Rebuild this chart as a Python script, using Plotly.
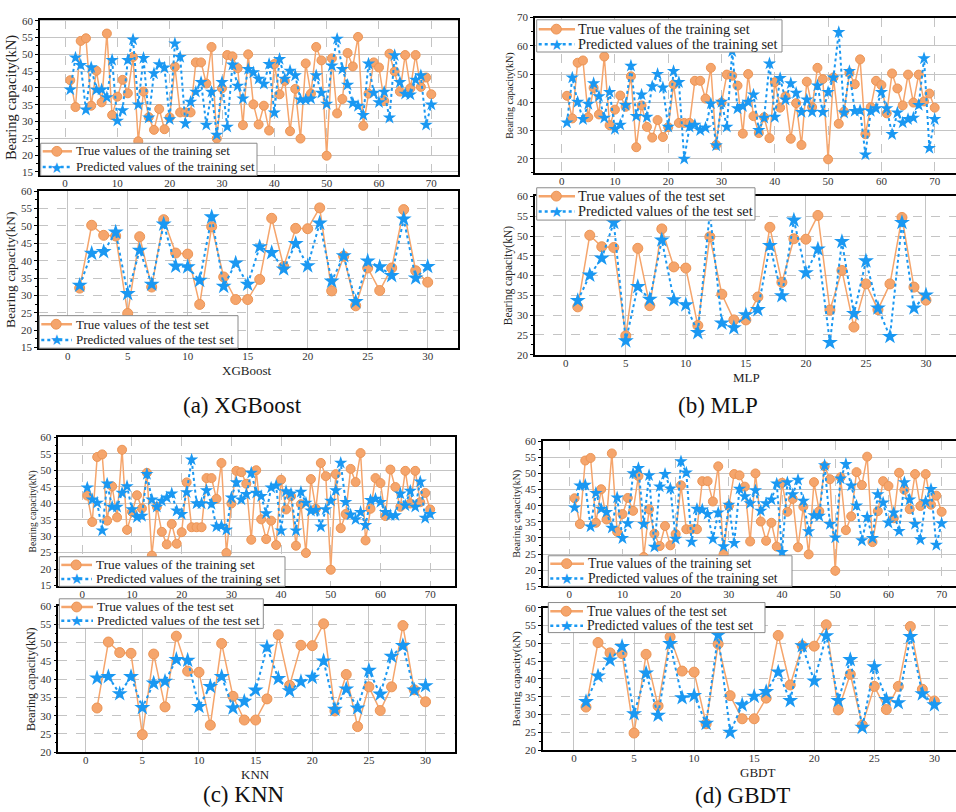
import plotly.graph_objects as go

W, H = 956, 812

train_x = list(range(1, 71))
test_x = list(range(1, 31))

train_true = [42.3, 34.3, 54.0, 54.8, 34.7, 45.1, 35.7, 56.2, 31.9, 37.4,
              42.4, 38.4, 49.2, 24.1, 38.9, 31.3, 27.5, 33.7, 27.7, 31.2,
              46.3, 32.7, 32.7, 32.7, 47.6, 47.6, 41.3, 52.2, 24.9, 39.9,
              49.8, 49.4, 45.9, 28.9, 50.0, 35.1, 29.1, 34.7, 27.3, 47.1,
              38.1, 42.1, 27.1, 39.7, 24.9, 47.3, 38.3, 52.2, 48.2, 19.8,
              48.8, 32.4, 36.7, 50.4, 46.4, 55.2, 28.7, 38.3, 47.6, 46.1,
              36.1, 50.2, 44.9, 38.9, 49.8, 39.9, 49.8, 40.3, 43.1, 38.1]

xgb_train_pred = [39.5, 49.0, 46.8, 33.5, 46.1, 39.4, 39.5, 37.2, 48.3, 30.2,
                  33.3, 48.3, 54.4, 35.0, 48.9, 31.1, 44.3, 47.0, 46.0, 30.6,
                  53.2, 49.2, 29.4, 35.8, 38.8, 41.7, 29.0, 38.8, 26.0, 41.7,
                  28.4, 46.9, 40.6, 36.8, 45.6, 44.6, 42.7, 41.2, 47.1, 32.6,
                  48.6, 42.7, 45.1, 43.7, 36.5, 36.5, 36.8, 43.7, 38.5, 35.2,
                  46.6, 54.6, 45.6, 40.9, 35.5, 34.6, 31.9, 47.2, 38.5, 35.7,
                  38.8, 31.1, 49.7, 41.7, 38.2, 38.0, 42.4, 43.7, 29.0, 35.0]

mlp_train_pred = [32.8, 48.7, 40.1, 34.0, 39.4, 46.7, 42.1, 34.5, 43.6, 30.5,
                  32.0, 39.0, 52.9, 35.1, 42.7, 34.8, 45.6, 50.0, 45.2, 31.3,
                  51.0, 47.1, 20.0, 31.3, 32.0, 30.1, 31.0, 39.5, 24.7, 40.1,
                  31.3, 58.0, 37.8, 38.6, 40.1, 42.7, 30.1, 34.5, 53.7, 34.8,
                  48.5, 40.9, 46.7, 43.3, 36.5, 40.9, 36.6, 45.9, 36.5, 43.6,
                  48.7, 64.8, 36.3, 51.0, 36.9, 37.1, 21.5, 36.9, 37.8, 43.6,
                  37.8, 28.7, 36.3, 32.8, 34.0, 34.5, 39.0, 55.5, 23.8, 34.0]

knn_train_pred = [44.7, 41.1, 40.1, 31.7, 45.9, 38.9, 38.9, 43.1, 45.1, 38.1,
                  35.7, 36.1, 48.8, 41.1, 38.9, 40.7, 41.7, 42.9, 37.7, 36.7,
                  43.3, 53.2, 39.9, 39.9, 43.9, 39.7, 32.9, 33.1, 31.9, 41.7,
                  46.3, 41.1, 42.7, 49.2, 43.1, 42.1, 36.9, 44.7, 45.3, 31.7,
                  43.6, 42.9, 31.7, 43.4, 40.1, 37.7, 37.9, 32.9, 38.1, 40.7,
                  43.9, 52.2, 40.3, 36.5, 35.1, 37.3, 33.3, 40.9, 41.3, 40.3,
                  37.3, 36.3, 36.3, 42.9, 39.3, 43.7, 38.9, 46.5, 35.5, 36.7]

gbdt_train_pred = [39.4, 46.2, 46.4, 33.5, 43.9, 39.0, 38.0, 33.1, 42.5, 29.9,
                   34.5, 50.0, 51.6, 34.3, 49.4, 27.2, 45.9, 49.8, 45.3, 29.7,
                   53.7, 50.2, 28.8, 39.0, 38.8, 37.4, 29.7, 37.8, 27.4, 40.2,
                   28.4, 45.2, 42.9, 40.7, 44.7, 38.4, 40.7, 41.9, 46.8, 25.6,
                   47.2, 43.5, 48.0, 41.5, 32.0, 37.0, 36.8, 52.5, 34.3, 30.1,
                   48.4, 52.9, 46.2, 40.0, 29.2, 36.4, 29.9, 43.5, 40.9, 34.7,
                   37.8, 32.1, 47.2, 41.9, 34.3, 29.5, 41.3, 45.1, 27.8, 34.5]

test_true = [32.1, 50.2, 47.3, 47.1, 24.8, 46.9, 32.4, 51.8, 42.2, 41.9,
             27.4, 49.8, 35.3, 28.8, 28.8, 34.6, 52.2, 38.3, 49.3, 49.2,
             55.2, 31.3, 41.3, 27.0, 37.9, 31.4, 37.9, 54.7, 37.1, 33.8]

xgb_test_pred = [32.9, 42.1, 42.6, 48.2, 30.5, 43.0, 33.2, 50.5, 38.4, 38.2,
                 34.3, 52.6, 32.6, 39.3, 33.2, 44.0, 42.3, 37.6, 44.9, 38.5,
                 50.8, 34.1, 41.4, 28.2, 39.9, 38.2, 35.7, 52.0, 35.0, 38.3]

mlp_test_pred = [33.7, 40.1, 44.4, 53.4, 23.5, 37.2, 34.0, 49.0, 33.9, 32.6,
                 25.6, 56.0, 28.0, 26.8, 30.1, 31.4, 47.6, 34.9, 54.0, 40.7,
                 46.7, 23.1, 48.6, 30.4, 43.7, 31.8, 24.6, 53.4, 31.8, 35.1]

knn_test_pred = [40.3, 40.7, 36.0, 40.7, 32.2, 38.9, 39.4, 45.4, 45.2, 32.5,
                 38.0, 40.7, 32.1, 33.9, 37.0, 48.8, 40.2, 36.8, 39.3, 40.5,
                 45.0, 31.7, 37.3, 32.1, 42.4, 35.9, 46.3, 49.2, 37.0, 38.2]

gbdt_test_pred = [33.6, 40.8, 45.3, 49.1, 30.2, 41.6, 29.8, 49.9, 34.7, 35.3,
                  27.5, 52.3, 25.0, 32.7, 35.1, 36.4, 41.9, 33.9, 49.3, 39.4,
                  52.1, 33.9, 45.4, 26.4, 43.4, 34.2, 33.3, 51.9, 35.8, 32.7]

model_names = ["XGBoost", "MLP", "KNN", "GBDT"]
captions = ["(a) XGBoost", "(b) MLP", "(c) KNN", "(d) GBDT"]
train_preds = [xgb_train_pred, mlp_train_pred, knn_train_pred, gbdt_train_pred]
test_preds = [xgb_test_pred, mlp_test_pred, knn_test_pred, gbdt_test_pred]

ORANGE = "#F5A56C"
ORANGE_EDGE = "#EC9555"
BLUE = "#1A98F2"
FONT = "Liberation Serif"

def px(v):
    return v / W

def py(v):
    return 1 - v / H

# dom=(left, right, top, bottom) px ; leg=(left, top, right, bottom, sample_right, text_left, row1, row2)
panels = [
    dict(dom=(40, 458, 14, 171.7), xr=[-4.78, 75.1], yr=[14.0, 60.3], xd=10, yd=5, mirror=True,
         leg=(40.7, 139.3, 257, 172, 72, 75, 147.5, 163.5), lf=12.9, tf=14.5, train=True),
    dict(dom=(39, 457.7, 188, 347.3), xr=[-2.39, 32.5], yr=[14.8, 60], xd=5, yd=5, mirror=True,
         leg=(39.3, 314.3, 238, 347.3, 72, 75, 323, 339), lf=13, tf=13.5, train=False),
    dict(dom=(535, 956, 11.7, 170), xr=[-5.0, 74.0], yr=[14.8, 70], xd=10, yd=10, mirror=False,
         leg=(536.7, 14, 782, 46.7, 575, 577, 23.5, 38.8), lf=14.4, tf=10, train=True),
    dict(dom=(535, 956, 193.3, 354), xr=[-2.56, 32.5], yr=[20, 60], xd=5, yd=5, mirror=False,
         leg=(536.7, 184.5, 755, 217.3, 575, 577, 193, 208.5), lf=14.4, tf=11.5, train=False),
    dict(dom=(58.3, 455, 437.7, 588.3), xr=[-4.83, 75.0], yr=[15, 60], xd=10, yd=5, mirror=True,
         leg=(59.3, 559, 285, 589, 92, 95, 567.3, 581.5), lf=13.3, tf=9.5, train=True),
    dict(dom=(58.3, 455, 609.3, 757.3), xr=[-2.42, 32.6], yr=[20, 60], xd=5, yd=5, mirror=True,
         leg=(59.3, 601.7, 263.3, 631.7, 93, 96, 610, 624), lf=13.4, tf=12, train=False),
    dict(dom=(543, 956, 441.7, 589), xr=[-4.94, 72.7], yr=[15, 60], xd=10, yd=5, mirror=False,
         leg=(548.3, 558, 792, 589, 584, 587, 566, 581), lf=13.7, tf=10.2, train=True),
    dict(dom=(543, 956, 610.7, 755.3), xr=[-2.58, 31.8], yr=[20, 60], xd=5, yd=5, mirror=False,
         leg=(548.3, 605.5, 765, 636, 583, 586, 614.3, 629), lf=13.7, tf=11, train=False),
]

fig = go.Figure()
layout = dict(width=W, height=H, margin=dict(l=0, r=0, t=0, b=0),
              paper_bgcolor="white", plot_bgcolor="white", showlegend=False,
              font=dict(family=FONT, color="#222"))
shapes = []
annotations = []

for i, p in enumerate(panels):
    k = i + 1
    suf = "" if k == 1 else str(k)
    m = i // 2
    is_train = p["train"]
    xs = train_x if is_train else test_x
    true_vals = train_true if is_train else test_true
    pred_vals = train_preds[m] if is_train else test_preds[m]
    setname = "training set" if is_train else "test set"
    msize = 9 if is_train else 10
    ssize = 10 if is_train else 12
    name_true = "True values of the " + setname
    name_pred = "Predicted values of the " + setname

    fig.add_trace(go.Scatter(
        x=xs, y=true_vals, mode="lines+markers", name=name_true,
        xaxis="x" + suf, yaxis="y" + suf,
        line=dict(color=ORANGE, width=1.5),
        marker=dict(symbol="circle", size=msize, color=ORANGE, line=dict(color=ORANGE_EDGE, width=1))))
    fig.add_trace(go.Scatter(
        x=xs, y=pred_vals, mode="lines+markers", name=name_pred,
        xaxis="x" + suf, yaxis="y" + suf,
        line=dict(color=BLUE, width=2, dash="dot"),
        marker=dict(symbol="star", size=ssize, color=BLUE, line=dict(width=0))))

    x0, x1, yt, yb = p["dom"]
    layout["xaxis" + suf] = dict(
        domain=[px(x0), px(x1)], anchor="y" + suf, range=p["xr"],
        tick0=0, dtick=p["xd"], showgrid=True, gridcolor="#c4c4c4", gridwidth=1,
        griddash="dash" if is_train else "solid",
        showline=True, linecolor="black", linewidth=1.5, mirror=True,
        ticks="", ticklabelstandoff=-3, tickfont=dict(size=11, color="#333"), zeroline=False)
    layout["yaxis" + suf] = dict(
        domain=[py(yb), py(yt)], anchor="x" + suf, range=p["yr"],
        tick0=0, dtick=p["yd"], showgrid=True, gridcolor="#c4c4c4", gridwidth=1,
        griddash="solid" if is_train else "dash",
        showline=True, linecolor="black", linewidth=1.5, mirror=p["mirror"],
        ticks="outside", ticklen=3, tickwidth=1, tickcolor="black",
        minor=dict(ticks="outside", ticklen=2, dtick=p["yd"] / 2, tickcolor="black", showgrid=False),
        tickfont=dict(size=11, color="#333"), zeroline=False,
        title=dict(text="Bearing capacity(kN)", font=dict(size=p["tf"], color="#222"), standoff=2))

    # custom legend box
    L, T, R, B, SR, TL, r1, r2 = p["leg"]
    shapes.append(dict(type="rect", xref="paper", yref="paper", layer="above",
                       x0=px(L), x1=px(R), y0=py(B), y1=py(T),
                       fillcolor="white", line=dict(color="#8a8a8a", width=1)))
    mid = (L + 1 + SR) / 2
    shapes.append(dict(type="line", xref="paper", yref="paper", layer="above",
                       x0=px(L + 2), x1=px(SR), y0=py(r1), y1=py(r1),
                       line=dict(color=ORANGE, width=2.5)))
    shapes.append(dict(type="circle", xref="paper", yref="paper", layer="above",
                       x0=px(mid - 5), x1=px(mid + 5), y0=py(r1 + 5), y1=py(r1 - 5),
                       fillcolor=ORANGE, line=dict(color=ORANGE_EDGE, width=1)))
    shapes.append(dict(type="line", xref="paper", yref="paper", layer="above",
                       x0=px(L + 2), x1=px(SR), y0=py(r2), y1=py(r2),
                       line=dict(color=BLUE, width=2.5, dash="dot")))
    annotations.append(dict(text="\u2605", x=px(mid), y=py(r2 + 0.5), xref="paper", yref="paper",
                            showarrow=False, font=dict(family="DejaVu Sans", size=15, color=BLUE),
                            xanchor="center", yanchor="middle"))
    for txt, ry in ((name_true, r1), (name_pred, r2)):
        annotations.append(dict(text=txt, x=px(TL), y=py(ry), xref="paper", yref="paper",
                                showarrow=False, font=dict(family=FONT, size=p["lf"], color="#222"),
                                xanchor="left", yanchor="middle", borderpad=0))

xlab_pos = [(247, 370), (746, 377), (255, 780), (757, 778)]
for name, (ax, ay) in zip(model_names, xlab_pos):
    annotations.append(dict(text=name, x=px(ax), y=py(ay), xref="paper", yref="paper",
                            showarrow=False, font=dict(family=FONT, size=13, color="#222"),
                            xanchor="center", yanchor="middle"))
cap_pos = [(242, 405), (718, 405), (243, 800), (742, 801)]
for cap, (ax, ay) in zip(captions, cap_pos):
    annotations.append(dict(text=cap, x=px(ax), y=py(ay), xref="paper", yref="paper",
                            showarrow=False, font=dict(family=FONT, size=23, color="#111"),
                            xanchor="center", yanchor="middle"))
layout["annotations"] = annotations
layout["shapes"] = shapes

fig.update_layout(**layout)
fig.write_html("out.html")
